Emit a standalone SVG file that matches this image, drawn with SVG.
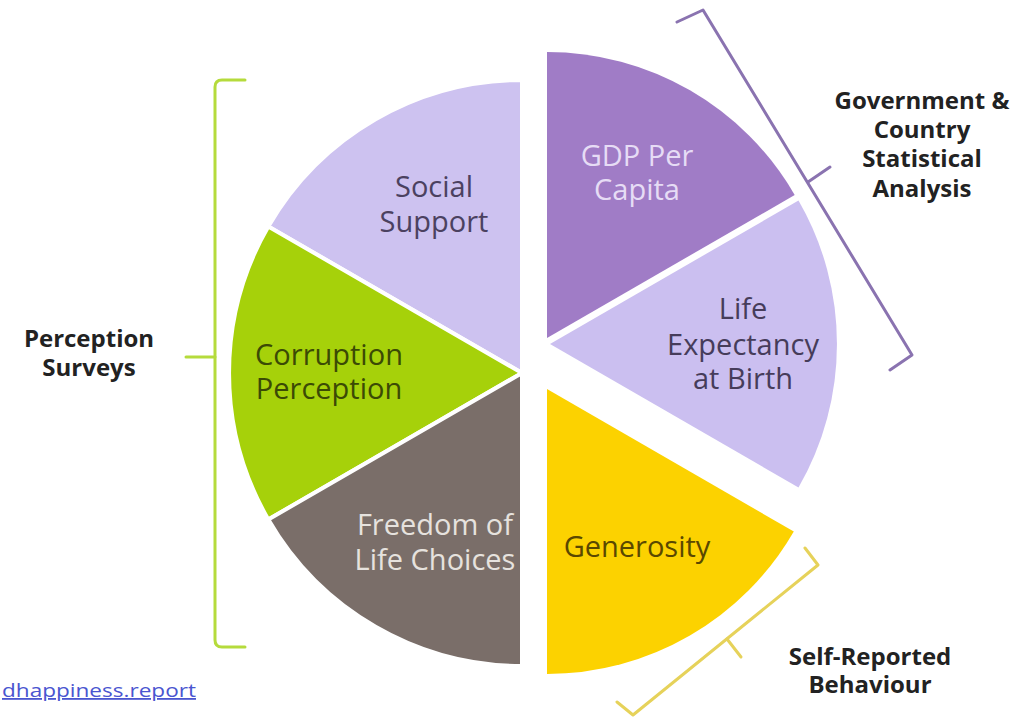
<svg xmlns="http://www.w3.org/2000/svg" width="1031" height="717" viewBox="0 0 1031 717">
<style>
.lbl{font-family:"Open Sans","Noto Sans","Liberation Sans",sans-serif;font-size:29px;text-anchor:middle}
.cat{font-family:"Open Sans","Noto Sans","Liberation Sans",sans-serif;font-size:24px;font-weight:bold;fill:#222;text-anchor:middle}
.br{fill:none;stroke-width:3;stroke-linecap:round;stroke-linejoin:round}
.ls{stroke:#fff;stroke-width:4;stroke-linejoin:round}
</style>
<rect width="1031" height="717" fill="#fff"/>
<g id="social-support">
<path class="ls" d="M522,373 L522,80 A293,293 0 0 0 268.3,226.5 Z" fill="#cdc2f0"/>
<text class="lbl" fill="#4b4160"><tspan x="434" y="197">Social</tspan><tspan x="434" y="232">Support</tspan></text>
</g>
<g id="corruption-perception">
<path class="ls" d="M522,373 L268.3,226.5 A293,293 0 0 0 268.3,519.5 Z" fill="#a6d10a"/>
<text class="lbl" fill="#3b4a05"><tspan x="329" y="365">Corruption</tspan><tspan x="329" y="399">Perception</tspan></text>
</g>
<g id="freedom-of-life-choices">
<path class="ls" d="M522,373 L268.3,519.5 A293,293 0 0 0 522,666 Z" fill="#7a6e69"/>
<text class="lbl" fill="#e6e2de"><tspan x="435" y="535">Freedom of</tspan><tspan x="435" y="570">Life Choices</tspan></text>
</g>
<g id="gdp-per-capita">
<path d="M547,338 L547,52 A286,286 0 0 1 794.7,195 Z" fill="#a07cc6"/>
<text class="lbl" fill="#e6dcf5"><tspan x="637" y="166">GDP Per</tspan><tspan x="637" y="200">Capita</tspan></text>
</g>
<g id="life-expectancy">
<path d="M550,344 L798.5,200.5 A287,287 0 0 1 798.5,487.5 Z" fill="#cbbff0"/>
<text class="lbl" fill="#463c5a"><tspan x="743" y="319">Life</tspan><tspan x="743" y="355">Expectancy</tspan><tspan x="743" y="389">at Birth</tspan></text>
</g>
<g id="generosity">
<path d="M547,389 L793.8,531.5 A285,285 0 0 1 547,674 Z" fill="#fcd200"/>
<text class="lbl" fill="#5a4800" x="637" y="557">Generosity</text>
</g>
<g id="connectors">
<path class="br" stroke="#b5db3c" d="M245,80 L222,80 Q215,80 215,87 L215,640 Q215,647 222,647 L245,647"/>
<path class="br" stroke="#b5db3c" d="M186,357 L215,357"/>
<path class="br" stroke="#8a73b0" d="M677,22 L703,10 L912,355 L890,370"/>
<path class="br" stroke="#8a73b0" d="M808,182 L830,167"/>
<path class="br" stroke="#e6d25a" d="M805,548 L818,565 L633,715 L617,702"/>
<path class="br" stroke="#e6d25a" d="M727,639 L741,657"/>
</g>
<g id="perception-surveys">
<text class="cat"><tspan x="89" y="347">Perception</tspan><tspan x="89" y="376">Surveys</tspan></text>
</g>
<g id="government-statistical">
<text class="cat"><tspan x="922" y="109">Government &amp;</tspan><tspan x="922" y="138">Country</tspan><tspan x="922" y="167">Statistical</tspan><tspan x="922" y="197">Analysis</tspan></text>
</g>
<g id="self-reported">
<text class="cat"><tspan x="870" y="665">Self-Reported</tspan><tspan x="870" y="693">Behaviour</tspan></text>
</g>
<text x="2" y="697" font-family="'Open Sans','Liberation Sans',sans-serif" font-size="18" fill="#4a55d0" text-decoration="underline" textLength="194" lengthAdjust="spacingAndGlyphs">dhappiness.report</text>
</svg>
